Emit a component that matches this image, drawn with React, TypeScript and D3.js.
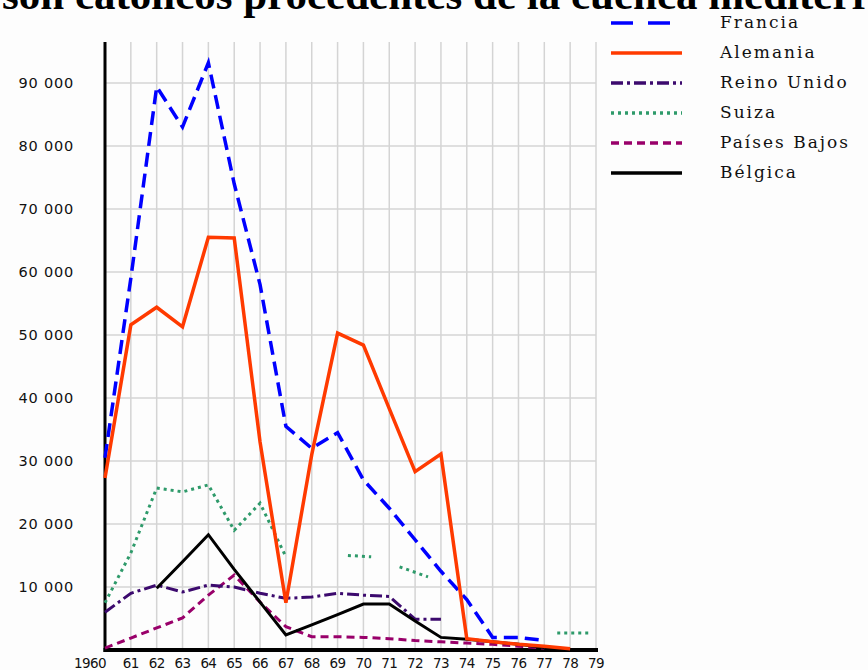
import React, {useEffect, useRef} from 'react';
import * as d3 from 'd3';

// years on the x axis, 1960 .. 1979
const years = d3.range(1960, 1980);
const tickLabels = ['1960', '61', '62', '63', '64', '65', '66', '67', '68', '69',
    '70', '71', '72', '73', '74', '75', '76', '77', '78', '79'];
const yTicks = [10000, 20000, 30000, 40000, 50000, 60000, 70000, 80000, 90000];

const francia = [30500, 59000, 89400, 83000, 93200, 74000, 58000, 35500, 32000, 34500,
    27000, 22500, 17500, 12500, 8000, 2000, 2000, 1500, null, null];
const alemania = [27300, 51600, 54400, 51300, 65500, 65400, 33000, 7500, 31000, 50300,
    48400, 38300, 28300, 31100, 1800, 1300, 900, 600, 200, null];
const reinoUnido = [6000, 9000, 10300, 9200, 10300, 10000, 9000, 8200, 8400, 9000,
    8700, 8500, 4900, 4900, null, null, null, null, null, null];
const paisesBajos = [300, 1900, 3500, 5100, 8700, 11900, 7600, 3700, 2100, 2100,
    2000, 1800, 1500, 1300, 1100, 900, 600, 300, null, null];
const belgica = [null, null, 9800, 14000, 18300, 12800, 7600, 2400, 4000, 5600,
    7300, 7300, 4600, 2000, 1700, 1300, 900, 400, null, null];
// Suiza has broken pieces in the original, kept as [year, value] with gaps
const suiza: ([number, number] | null)[] = [
    [1960, 7500], [1961, 15400], [1962, 25700], [1963, 25100], [1964, 26200],
    [1965, 19000], [1966, 23300], [1967, 14800], null,
    [1969.4, 15000], [1970.3, 14800], null,
    [1971.4, 13200], [1972.5, 11600], null,
    [1977.5, 2700], [1978.7, 2700],
];

const seriesNames = ['Francia', 'Alemania', 'Reino Unido', 'Suiza', 'Países Bajos', 'Bélgica'];
const seriesColors = ['#0000ff', '#ff3a00', '#3c0a6e', '#2e9a6a', '#99006a', '#000000'];
const seriesDash = ['14 7', null, '12 4 3 4', '3 4', '8 5', null];
const seriesWidth = [3.5, 3.5, 3, 3, 3, 3];

const toPoints = (vals: (number | null)[]) =>
    vals.map((v, i) => (v === null ? null : [years[i], v] as [number, number]));

const App = () => {
    const svgRef = useRef<SVGSVGElement>(null);

    useEffect(() => {
        const svg = d3.select(svgRef.current);
        svg.selectAll('*').remove();

        const x = d3.scaleLinear().domain([1960, 1979]).range([105, 596]);
        const y = d3.scaleLinear().domain([0, 96500]).range([650, 42]);

        svg.append('rect').attr('width', 868).attr('height', 670).attr('fill', '#fdfdfd');

        // title, cut off at the top like the scan
        svg.append('text')
            .attr('x', 2).attr('y', 9)
            .attr('font-family', '"Liberation Serif", serif')
            .attr('font-weight', 'bold')
            .attr('font-size', 43)
            .text('son católicos procedentes de la cuenca mediterránea');

        const grid = svg.append('g').attr('stroke', '#d4d4d4').attr('stroke-width', 1.5);
        grid.selectAll('line.v')
            .data(years.slice(1))
            .join('line')
            .attr('x1', d => x(d)).attr('x2', d => x(d))
            .attr('y1', y(96500)).attr('y2', y(0));
        grid.selectAll('line.h')
            .data(yTicks)
            .join('line')
            .attr('x1', x(1960)).attr('x2', x(1979))
            .attr('y1', d => y(d)).attr('y2', d => y(d));

        // axes
        svg.append('line')
            .attr('x1', x(1960)).attr('x2', x(1960))
            .attr('y1', y(96500)).attr('y2', y(0) + 2)
            .attr('stroke', '#000').attr('stroke-width', 3);
        svg.append('line')
            .attr('x1', x(1960) - 1.5).attr('x2', x(1979) + 2)
            .attr('y1', y(0)).attr('y2', y(0))
            .attr('stroke', '#000').attr('stroke-width', 4);

        const fmt = (d: number) => d3.format(',')(d).replace(',', ' ');
        svg.append('g')
            .selectAll('text')
            .data(yTicks)
            .join('text')
            .attr('x', 74)
            .attr('y', d => y(d))
            .attr('dy', '0.36em')
            .attr('text-anchor', 'end')
            .attr('font-family', '"DejaVu Sans", sans-serif')
            .attr('font-size', 14.5)
            .attr('letter-spacing', 0.8)
            .attr('fill', '#111')
            .text(fmt);

        svg.append('g')
            .selectAll('text')
            .data(years)
            .join('text')
            .attr('x', d => (d === 1960 ? x(d) + 1 : x(d)))
            .attr('y', 668)
            .attr('text-anchor', d => (d === 1960 ? 'end' : 'middle'))
            .attr('font-family', '"DejaVu Sans", sans-serif')
            .attr('font-size', 13.5)
            .attr('letter-spacing', -0.6)
            .attr('fill', '#111')
            .text((d, i) => tickLabels[i]);

        const line = d3.line<[number, number] | null>()
            .defined(d => d !== null)
            .x(d => x(d![0]))
            .y(d => y(d![1]));

        const allSeries = [
            toPoints(francia), toPoints(alemania), toPoints(reinoUnido),
            suiza, toPoints(paisesBajos), toPoints(belgica),
        ];
        // draw order: lighter lines under, solid ones above
        const order = [4, 3, 2, 5, 0, 1];
        order.forEach(i => {
            svg.append('path')
                .attr('d', line(allSeries[i]))
                .attr('fill', 'none')
                .attr('stroke', seriesColors[i])
                .attr('stroke-width', seriesWidth[i])
                .attr('stroke-dasharray', seriesDash[i])
                .attr('stroke-linejoin', 'miter');
        });

        // legend
        const legend = svg.append('g')
            .selectAll('g')
            .data(seriesNames)
            .join('g')
            .attr('transform', (d, i) => `translate(0, ${23 + i * 30})`);
        legend.append('line')
            .attr('x1', 611).attr('x2', 682)
            .attr('stroke', (d, i) => seriesColors[i])
            .attr('stroke-width', 3.5)
            .attr('stroke-dasharray', (d, i) => (i === 0 ? '22 15' : seriesDash[i]));
        legend.append('text')
            .attr('x', 720).attr('y', 5)
            .attr('font-family', '"DejaVu Serif", serif')
            .attr('font-size', 17)
            .attr('letter-spacing', 2)
            .attr('fill', '#111')
            .text(d => d);
    }, []);

    return (
        <svg ref={svgRef} width={868} height={670}
             style={{position: 'absolute', left: 0, top: 0, display: 'block'}}/>
    );
};

export default App;
